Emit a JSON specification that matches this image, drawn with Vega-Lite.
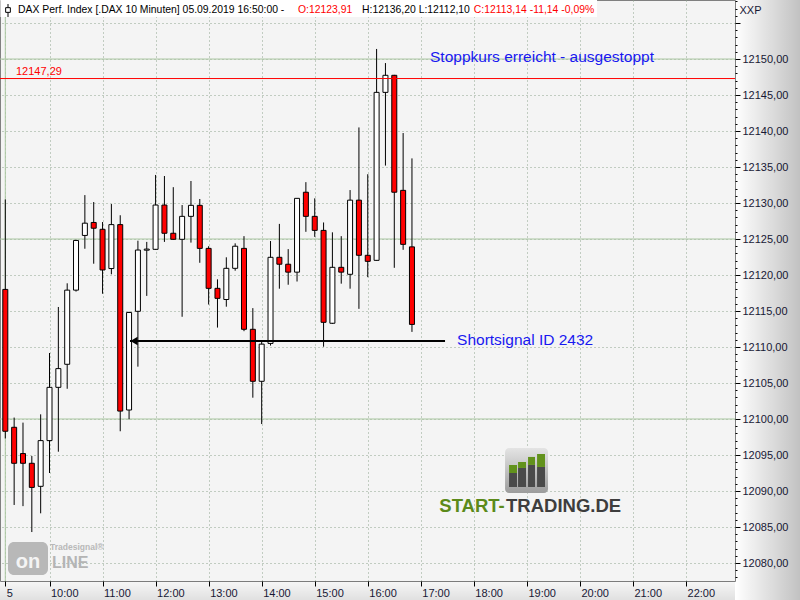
{
  "$schema": "https://vega.github.io/schema/vega-lite/v6.json",
  "width": 735,
  "height": 581,
  "autosize": {"type": "none"},
  "padding": {"left": 0, "top": 0, "right": 65, "bottom": 19},
  "background": "#ffffff",
  "config": {
    "font": "Liberation Sans",
    "view": {"fill": "#f4f4f4", "stroke": "#808080", "strokeWidth": 1}
  },
  "resolve": {"axis": {"y": "independent"}},
  "datasets": {
    "candles": [
      {"t": "2019-09-05T09:10", "o": 12118.0, "h": 12130.5, "l": 12097.3, "c": 12098.3},
      {"t": "2019-09-05T09:20", "o": 12098.85, "h": 12100.2, "l": 12088.06, "c": 12093.85},
      {"t": "2019-09-05T09:30", "o": 12095.2, "h": 12099.5, "l": 12087.9, "c": 12093.85},
      {"t": "2019-09-05T09:40", "o": 12093.85, "h": 12094.86, "l": 12084.3, "c": 12090.5},
      {"t": "2019-09-05T09:50", "o": 12090.65, "h": 12100.65, "l": 12086.9, "c": 12097.0},
      {"t": "2019-09-05T10:00", "o": 12097.0, "h": 12109.17, "l": 12092.5, "c": 12104.4},
      {"t": "2019-09-05T10:10", "o": 12104.4, "h": 12115.56, "l": 12095.46, "c": 12107.0},
      {"t": "2019-09-05T10:20", "o": 12107.6, "h": 12118.85, "l": 12104.2, "c": 12117.9},
      {"t": "2019-09-05T10:30", "o": 12117.9, "h": 12124.9, "l": 12117.7, "c": 12124.8},
      {"t": "2019-09-05T10:40", "o": 12125.5, "h": 12131.1, "l": 12123.65, "c": 12127.2},
      {"t": "2019-09-05T10:50", "o": 12127.3, "h": 12130.14, "l": 12121.57, "c": 12126.5},
      {"t": "2019-09-05T11:00", "o": 12126.35, "h": 12127.36, "l": 12117.4, "c": 12120.7},
      {"t": "2019-09-05T11:10", "o": 12120.9, "h": 12129.86, "l": 12120.1, "c": 12127.0},
      {"t": "2019-09-05T11:20", "o": 12127.0, "h": 12128.3, "l": 12098.3, "c": 12101.1},
      {"t": "2019-09-05T11:30", "o": 12101.25, "h": 12114.9, "l": 12099.96, "c": 12114.8},
      {"t": "2019-09-05T11:40", "o": 12114.96, "h": 12124.77, "l": 12107.27, "c": 12123.47},
      {"t": "2019-09-05T11:50", "o": 12123.45, "h": 12124.6, "l": 12117.1, "c": 12123.6},
      {"t": "2019-09-05T12:00", "o": 12123.57, "h": 12133.9, "l": 12123.5, "c": 12129.72},
      {"t": "2019-09-05T12:10", "o": 12129.72, "h": 12133.75, "l": 12124.6, "c": 12125.8},
      {"t": "2019-09-05T12:20", "o": 12125.8, "h": 12132.2, "l": 12124.9, "c": 12124.96},
      {"t": "2019-09-05T12:30", "o": 12124.96, "h": 12129.72, "l": 12114.2, "c": 12128.15},
      {"t": "2019-09-05T12:40", "o": 12128.15, "h": 12133.06, "l": 12124.5, "c": 12129.68},
      {"t": "2019-09-05T12:50", "o": 12129.68, "h": 12130.56, "l": 12121.7, "c": 12123.7},
      {"t": "2019-09-05T13:00", "o": 12123.7, "h": 12124.0, "l": 12115.9, "c": 12118.15},
      {"t": "2019-09-05T13:10", "o": 12118.15, "h": 12119.4, "l": 12112.7, "c": 12116.76},
      {"t": "2019-09-05T13:20", "o": 12116.6, "h": 12122.46, "l": 12115.6, "c": 12120.93},
      {"t": "2019-09-05T13:30", "o": 12120.93, "h": 12124.4, "l": 12120.6, "c": 12124.0},
      {"t": "2019-09-05T13:40", "o": 12123.7, "h": 12125.4, "l": 12112.2, "c": 12112.46},
      {"t": "2019-09-05T13:50", "o": 12112.46, "h": 12115.4, "l": 12102.96, "c": 12105.24},
      {"t": "2019-09-05T14:00", "o": 12105.24, "h": 12110.83, "l": 12099.3, "c": 12110.4},
      {"t": "2019-09-05T14:10", "o": 12110.5, "h": 12124.72, "l": 12110.2, "c": 12122.46},
      {"t": "2019-09-05T14:20", "o": 12122.46, "h": 12127.1, "l": 12118.1, "c": 12121.5},
      {"t": "2019-09-05T14:30", "o": 12121.5, "h": 12123.6, "l": 12118.65, "c": 12120.4},
      {"t": "2019-09-05T14:40", "o": 12120.4, "h": 12130.65, "l": 12119.1, "c": 12130.65},
      {"t": "2019-09-05T14:50", "o": 12131.5, "h": 12132.9, "l": 12126.0, "c": 12128.15},
      {"t": "2019-09-05T15:00", "o": 12128.15, "h": 12130.65, "l": 12125.3, "c": 12126.2},
      {"t": "2019-09-05T15:10", "o": 12126.2, "h": 12127.3, "l": 12110.04, "c": 12113.43},
      {"t": "2019-09-05T15:20", "o": 12113.3, "h": 12125.93, "l": 12113.2, "c": 12121.07},
      {"t": "2019-09-05T15:30", "o": 12121.07, "h": 12125.4, "l": 12118.8, "c": 12120.4},
      {"t": "2019-09-05T15:40", "o": 12120.1, "h": 12131.8, "l": 12118.1, "c": 12130.4},
      {"t": "2019-09-05T15:50", "o": 12130.4, "h": 12140.5, "l": 12115.3, "c": 12122.74},
      {"t": "2019-09-05T16:00", "o": 12122.74, "h": 12134.0, "l": 12119.7, "c": 12121.9},
      {"t": "2019-09-05T16:10", "o": 12122.04, "h": 12151.4, "l": 12122.0, "c": 12145.37},
      {"t": "2019-09-05T16:20", "o": 12145.37, "h": 12149.44, "l": 12135.2, "c": 12147.74},
      {"t": "2019-09-05T16:30", "o": 12147.74, "h": 12147.8, "l": 12121.0, "c": 12131.5},
      {"t": "2019-09-05T16:40", "o": 12131.76, "h": 12139.72, "l": 12123.5, "c": 12124.26},
      {"t": "2019-09-05T16:50", "o": 12123.91, "h": 12136.2, "l": 12112.1, "c": 12113.14}
    ],
    "logobars": [
      {"t1": "2019-09-05T18:39:48", "t2": "2019-09-05T18:48:48", "top": 12092.51, "bottom": 12090.56, "part": "dark"},
      {"t1": "2019-09-05T18:39:48", "t2": "2019-09-05T18:48:48", "top": 12093.62, "bottom": 12092.51, "part": "green"},
      {"t1": "2019-09-05T18:50:00", "t2": "2019-09-05T18:59:00", "top": 12093.2, "bottom": 12090.56, "part": "dark"},
      {"t1": "2019-09-05T18:50:00", "t2": "2019-09-05T18:59:00", "top": 12094.03, "bottom": 12093.2, "part": "green"},
      {"t1": "2019-09-05T19:01:18", "t2": "2019-09-05T19:09:12", "top": 12093.62, "bottom": 12090.56, "part": "dark"},
      {"t1": "2019-09-05T19:01:18", "t2": "2019-09-05T19:09:12", "top": 12094.73, "bottom": 12093.62, "part": "green"},
      {"t1": "2019-09-05T19:11:30", "t2": "2019-09-05T19:20:30", "top": 12093.34, "bottom": 12090.56, "part": "dark"},
      {"t1": "2019-09-05T19:11:30", "t2": "2019-09-05T19:20:30", "top": 12095.14, "bottom": 12093.34, "part": "green"}
    ]
  },
  "layer": [
    {
      "data": {"values": [{"p": 12100}, {"p": 12125}, {"p": 12150}]},
      "mark": {"type": "rule", "color": "#a9c6a0", "strokeWidth": 1},
      "encoding": {"y": {"field": "p", "type": "quantitative", "axis": null}}
    },
    {
      "data": {"values": [{"t": "2019-09-05T09:10"}]},
      "mark": {"type": "rule", "color": "#a9c6a0", "strokeWidth": 1},
      "encoding": {"x": {"field": "t", "type": "temporal"}}
    },
    {
      "data": {"name": "candles"},
      "mark": {"type": "rule", "color": "#000000", "strokeWidth": 1},
      "encoding": {
        "x": {
          "field": "t", "type": "temporal",
          "scale": {
            "domain": [
              {"year": 2019, "month": 9, "date": 5, "hours": 9, "minutes": 4},
              {"year": 2019, "month": 9, "date": 5, "hours": 22, "minutes": 55, "seconds": 24}
            ],
            "nice": false,
            "padding": 0
          },
          "axis": {
            "orient": "bottom",
            "title": null,
            "values": [
              {"year": 2019, "month": 9, "date": 5, "hours": 9, "minutes": 10},
              {"year": 2019, "month": 9, "date": 5, "hours": 10},
              {"year": 2019, "month": 9, "date": 5, "hours": 11},
              {"year": 2019, "month": 9, "date": 5, "hours": 12},
              {"year": 2019, "month": 9, "date": 5, "hours": 13},
              {"year": 2019, "month": 9, "date": 5, "hours": 14},
              {"year": 2019, "month": 9, "date": 5, "hours": 15},
              {"year": 2019, "month": 9, "date": 5, "hours": 16},
              {"year": 2019, "month": 9, "date": 5, "hours": 17},
              {"year": 2019, "month": 9, "date": 5, "hours": 18},
              {"year": 2019, "month": 9, "date": 5, "hours": 19},
              {"year": 2019, "month": 9, "date": 5, "hours": 20},
              {"year": 2019, "month": 9, "date": 5, "hours": 21},
              {"year": 2019, "month": 9, "date": 5, "hours": 22}
            ],
            "labelExpr": "hours(datum.value) === 9 ? '5' : timeFormat(datum.value, '%H:%M')",
            "labelAlign": "left",
            "labelOffset": 1,
            "labelPadding": 1,
            "labelFontSize": 11,
            "labelColor": "#1a1a3a",
            "labelOverlap": false,
            "labelFlush": false,
            "domain": false,
            "tickColor": "#000000",
            "tickSize": 5,
            "grid": true,
            "gridColor": "#8fa48f",
            "gridDash": [1, 3],
            "gridWidth": 1
          }
        },
        "y": {
          "field": "l", "type": "quantitative",
          "scale": {"domain": [12077.5, 12158.2], "nice": false, "zero": false, "padding": 0},
          "axis": {
            "orient": "right",
            "values": [12080, 12085, 12090, 12095, 12100, 12105, 12110, 12115, 12120, 12125, 12130, 12135, 12140, 12145, 12150, 12155],
            "labelExpr": "datum.value > 12152 ? '' : replace(format(datum.value, '.2f'), '.', ',')",
            "labelOverlap": false,
            "labelFlush": false,
            "labelFontSize": 11,
            "labelColor": "#1a1a3a",
            "labelPadding": 2,
            "domain": false,
            "tickColor": "#000000",
            "tickSize": 5,
            "grid": true,
            "gridColor": "#8fa48f",
            "gridDash": [1, 3],
            "gridWidth": 1,
            "title": "XXP",
            "titleAngle": 0,
            "titleAlign": "left",
            "titleBaseline": "middle",
            "titleX": 4,
            "titleY": 10,
            "titleFontSize": 11,
            "titleFontWeight": "normal",
            "titleColor": "#1a1a3a"
          }
        },
        "y2": {"field": "h"}
      }
    },
    {
      "data": {"name": "candles"},
      "mark": {"type": "bar", "size": 5, "stroke": "#000000", "strokeWidth": 1},
      "encoding": {
        "x": {"field": "t", "type": "temporal"},
        "y": {"field": "o", "type": "quantitative", "axis": null},
        "y2": {"field": "c"},
        "fill": {"condition": {"test": "datum.c < datum.o", "value": "#ff0000"}, "value": "#ffffff"}
      }
    },
    {
      "data": {"values": [{"p": 12147.29}]},
      "mark": {"type": "rule", "color": "#ff0000", "strokeWidth": 1},
      "encoding": {
        "y": {
          "field": "p", "type": "quantitative",
          "axis": {
            "orient": "right",
            "values": [12078,12079,12081,12082,12083,12084,12086,12087,12088,12089,12091,12092,12093,12094,12096,12097,12098,12099,12101,12102,12103,12104,12106,12107,12108,12109,12111,12112,12113,12114,12116,12117,12118,12119,12121,12122,12123,12124,12126,12127,12128,12129,12131,12132,12133,12134,12136,12137,12138,12139,12141,12142,12143,12144,12146,12147,12148,12149,12151,12152,12153,12154,12156,12157,12158],
            "labels": false,
            "grid": false,
            "domain": false,
            "title": null,
            "tickColor": "#000000",
            "tickSize": 2
          }
        }
      }
    },
    {
      "data": {"values": [{"t": "2019-09-05T09:22:06", "v": 12148.26, "label": "12147,29"}]},
      "mark": {"type": "text", "align": "left", "baseline": "middle", "fontSize": 11, "color": "#ff0000"},
      "encoding": {
        "x": {"field": "t", "type": "temporal"},
        "y": {"field": "v", "type": "quantitative", "axis": null},
        "text": {"field": "label"}
      }
    },
    {
      "data": {"values": [{"t": "2019-09-05T17:10:26", "v": 12150.28, "label": "Stoppkurs erreicht - ausgestoppt"}]},
      "mark": {"type": "text", "align": "left", "baseline": "middle", "fontSize": 15.5, "color": "#1818f0"},
      "encoding": {
        "x": {"field": "t", "type": "temporal"},
        "y": {"field": "v", "type": "quantitative", "axis": null},
        "text": {"field": "label"}
      }
    },
    {
      "data": {"values": [{"t1": "2019-09-05T11:31:04", "t2": "2019-09-05T17:27:24", "v": 12110.83}]},
      "mark": {"type": "rule", "color": "#000000", "strokeWidth": 2},
      "encoding": {
        "x": {"field": "t1", "type": "temporal"},
        "x2": {"field": "t2"},
        "y": {"field": "v", "type": "quantitative", "axis": null}
      }
    },
    {
      "data": {"values": [{"t": "2019-09-05T11:35:36", "v": 12110.83}]},
      "mark": {"type": "point", "shape": "triangle-left", "size": 70, "filled": true, "color": "#000000", "opacity": 1},
      "encoding": {
        "x": {"field": "t", "type": "temporal"},
        "y": {"field": "v", "type": "quantitative", "axis": null}
      }
    },
    {
      "data": {"values": [{"t": "2019-09-05T17:41:00", "v": 12110.97, "label": "Shortsignal ID 2432"}]},
      "mark": {"type": "text", "align": "left", "baseline": "middle", "fontSize": 15.5, "color": "#1818f0"},
      "encoding": {
        "x": {"field": "t", "type": "temporal"},
        "y": {"field": "v", "type": "quantitative", "axis": null},
        "text": {"field": "label"}
      }
    },
    {
      "data": {"values": [{"t1": "2019-09-05T09:04:30", "t2": "2019-09-05T20:19:22", "v1": 12158.2, "v2": 12155.83}]},
      "mark": {"type": "rect", "color": "#ffffff", "opacity": 1},
      "encoding": {
        "x": {"field": "t1", "type": "temporal"},
        "x2": {"field": "t2"},
        "y": {"field": "v1", "type": "quantitative", "axis": null},
        "y2": {"field": "v2"}
      }
    },
    {
      "data": {"values": [
        {"t": "2019-09-05T09:24:22", "v": 12156.81, "label": "DAX Perf. Index [.DAX  10 Minuten] 05.09.2019 16:50:00 -"},
        {"t": "2019-09-05T15:53:30", "v": 12156.81, "label": "H:12136,20 L:12112,10"}
      ]},
      "mark": {"type": "text", "align": "left", "baseline": "middle", "fontSize": 10.4, "color": "#000000"},
      "encoding": {
        "x": {"field": "t", "type": "temporal"},
        "y": {"field": "v", "type": "quantitative", "axis": null},
        "text": {"field": "label"}
      }
    },
    {
      "data": {"values": [
        {"t": "2019-09-05T14:41:04", "v": 12156.81, "label": "O:12123,91"},
        {"t": "2019-09-05T18:00:00", "v": 12156.81, "label": "C:12113,14 -11,14 -0,09%"}
      ]},
      "mark": {"type": "text", "align": "left", "baseline": "middle", "fontSize": 10.4, "color": "#ff0000"},
      "encoding": {
        "x": {"field": "t", "type": "temporal"},
        "y": {"field": "v", "type": "quantitative", "axis": null},
        "text": {"field": "label"}
      }
    },
    {
      "data": {"values": [{"t": "2019-09-05T09:13:03", "lo": 12155.84, "hi": 12157.64}]},
      "mark": {"type": "rule", "color": "#000000", "strokeWidth": 1},
      "encoding": {
        "x": {"field": "t", "type": "temporal"},
        "y": {"field": "lo", "type": "quantitative", "axis": null},
        "y2": {"field": "hi"}
      }
    },
    {
      "data": {"values": [{"t": "2019-09-05T09:13:03", "v": 12156.81}]},
      "mark": {"type": "point", "shape": "square", "size": 22, "filled": true, "fill": "#ffffff", "stroke": "#000000", "strokeWidth": 1, "opacity": 1},
      "encoding": {
        "x": {"field": "t", "type": "temporal"},
        "y": {"field": "v", "type": "quantitative", "axis": null}
      }
    },
    {
      "data": {"values": [{"t1": "2019-09-05T18:35:18", "t2": "2019-09-05T19:23:54", "v1": 12095.98, "v2": 12089.73}]},
      "mark": {"type": "rect", "cornerRadius": 4, "fill": {"gradient": "linear", "x1": 0, "y1": 0, "x2": 0, "y2": 1, "stops": [{"offset": 0, "color": "#e4e4e4"}, {"offset": 1, "color": "#9c9c9c"}]}},
      "encoding": {
        "x": {"field": "t1", "type": "temporal"},
        "x2": {"field": "t2"},
        "y": {"field": "v1", "type": "quantitative", "axis": null},
        "y2": {"field": "v2"}
      }
    },
    {
      "data": {"name": "logobars"},
      "mark": {"type": "rect"},
      "encoding": {
        "x": {"field": "t1", "type": "temporal"},
        "x2": {"field": "t2"},
        "y": {"field": "top", "type": "quantitative", "axis": null},
        "y2": {"field": "bottom"},
        "color": {"field": "part", "type": "nominal", "scale": {"domain": ["green", "dark"], "range": ["#62921c", "#4a4a4a"]}, "legend": null}
      }
    },
    {
      "data": {"values": [{"t": "2019-09-05T18:35:00", "v": 12087.85, "label": "START-"}]},
      "mark": {"type": "text", "align": "right", "baseline": "middle", "fontSize": 18.5, "fontWeight": "bold", "color": "#5b8a1a"},
      "encoding": {
        "x": {"field": "t", "type": "temporal"},
        "y": {"field": "v", "type": "quantitative", "axis": null},
        "text": {"field": "label"}
      }
    },
    {
      "data": {"values": [{"t": "2019-09-05T18:36:24", "v": 12087.85, "label": "TRADING.DE"}]},
      "mark": {"type": "text", "align": "left", "baseline": "middle", "fontSize": 18.5, "fontWeight": "bold", "color": "#3d3d3d"},
      "encoding": {
        "x": {"field": "t", "type": "temporal"},
        "y": {"field": "v", "type": "quantitative", "axis": null},
        "text": {"field": "label"}
      }
    },
    {
      "data": {"values": [{"t1": "2019-09-05T09:13:03", "t2": "2019-09-05T09:58:18", "v1": 12082.92, "v2": 12078.34}]},
      "mark": {"type": "rect", "cornerRadius": 6, "color": "#b8b8b8", "opacity": 1},
      "encoding": {
        "x": {"field": "t1", "type": "temporal"},
        "x2": {"field": "t2"},
        "y": {"field": "v1", "type": "quantitative", "axis": null},
        "y2": {"field": "v2"}
      }
    },
    {
      "data": {"values": [{"t": "2019-09-05T09:35:40", "v": 12080.1, "label": "on"}]},
      "mark": {"type": "text", "align": "center", "baseline": "middle", "fontSize": 20, "fontWeight": "bold", "color": "#f4f4f4"},
      "encoding": {
        "x": {"field": "t", "type": "temporal"},
        "y": {"field": "v", "type": "quantitative", "axis": null},
        "text": {"field": "label"}
      }
    },
    {
      "data": {"values": [{"t": "2019-09-05T10:02:49", "v": 12080.05, "label": "LINE"}]},
      "mark": {"type": "text", "align": "left", "baseline": "middle", "fontSize": 16, "fontWeight": "bold", "color": "#b4b4b4"},
      "encoding": {
        "x": {"field": "t", "type": "temporal"},
        "y": {"field": "v", "type": "quantitative", "axis": null},
        "text": {"field": "label"}
      }
    },
    {
      "data": {"values": [{"t": "2019-09-05T10:00:34", "v": 12082.2, "label": "Tradesignal®"}]},
      "mark": {"type": "text", "align": "left", "baseline": "middle", "fontSize": 8.5, "fontWeight": "bold", "color": "#b8b8b8"},
      "encoding": {
        "x": {"field": "t", "type": "temporal"},
        "y": {"field": "v", "type": "quantitative", "axis": null},
        "text": {"field": "label"}
      }
    },
    {
      "data": {"values": [{"t1": "2019-09-05T22:55:24", "t2": "2019-09-06T00:12:00", "v1": 12159.5, "v2": 12074.0}]},
      "mark": {"type": "rect", "fill": {"gradient": "linear", "x1": 0, "y1": 0, "x2": 1, "y2": 0, "stops": [{"offset": 0, "color": "rgba(0,0,0,0)"}, {"offset": 1, "color": "rgba(0,0,0,0.25)"}]}},
      "encoding": {
        "x": {"field": "t1", "type": "temporal"},
        "x2": {"field": "t2"},
        "y": {"field": "v1", "type": "quantitative", "axis": null},
        "y2": {"field": "v2"}
      }
    },
    {
      "data": {"values": [{"t1": "2019-09-05T09:00:00", "t2": "2019-09-05T22:55:24", "v1": 12077.5, "v2": 12074.85}]},
      "mark": {"type": "rect", "fill": {"gradient": "linear", "x1": 0, "y1": 0, "x2": 0, "y2": 1, "stops": [{"offset": 0, "color": "rgba(0,0,0,0.03)"}, {"offset": 1, "color": "rgba(0,0,0,0.12)"}]}},
      "encoding": {
        "x": {"field": "t1", "type": "temporal"},
        "x2": {"field": "t2"},
        "y": {"field": "v1", "type": "quantitative", "axis": null},
        "y2": {"field": "v2"}
      }
    }
  ]
}
